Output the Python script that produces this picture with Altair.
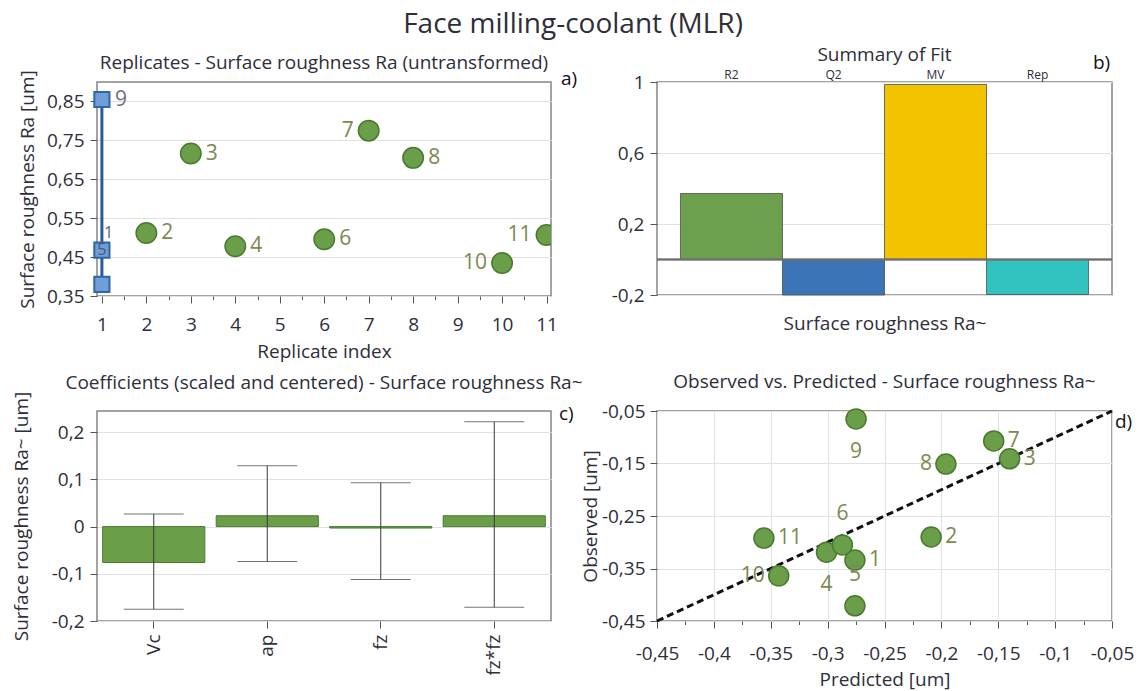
import altair as alt
import pandas as pd

# ---------------- data ----------------
# Panel a: replicate plot (untransformed Ra)
rep_idx = [2, 3, 4, 6, 7, 8, 10, 11]
rep_run = ["2", "3", "4", "6", "7", "8", "10", "11"]
rep_ra = [0.512, 0.716, 0.478, 0.496, 0.775, 0.705, 0.435, 0.507]
rep_side = ["r", "r", "r", "r", "l", "r", "l", "l"]

center_idx = [1, 1, 1]
center_run = ["9", "1", "5"]
center_ra = [0.855, 0.468, 0.38]

a_xticks = [1, 2, 3, 4, 5, 6, 7, 8, 9, 10, 11]
a_xminor = [1.5, 2.5, 3.5, 4.5, 5.5, 6.5, 7.5, 8.5, 9.5, 10.5]
a_yticks = [0.35, 0.45, 0.55, 0.65, 0.75, 0.85]

# Panel b: summary of fit
fit_names = ["R2", "Q2", "MV", "Rep"]
fit_vals = [0.372, -0.2, 0.986, -0.197]
fit_colors = ["#6c9f4e", "#3b75b5", "#f4c300", "#31c3c0"]
b_yticks = [-0.2, 0, 0.2, 0.4, 0.6, 0.8, 1]
b_yminor = [-0.1, 0.1, 0.3, 0.5, 0.7, 0.9]

# Panel c: coefficients
coef_terms = ["Vc", "ap", "fz", "fz*fz"]
coef_vals = [-0.076, 0.023, -0.003, 0.023]
coef_lo = [-0.175, -0.074, -0.112, -0.171]
coef_hi = [0.027, 0.129, 0.093, 0.222]
c_yticks = [-0.2, -0.1, 0, 0.1, 0.2]

# Panel d: observed vs predicted
run_ids = ["1", "2", "3", "4", "5", "6", "7", "8", "9", "10", "11"]
predicted = [-0.276, -0.209, -0.140, -0.301, -0.276, -0.287, -0.154, -0.196, -0.275, -0.343, -0.356]
observed = [-0.334, -0.290, -0.141, -0.319, -0.421, -0.305, -0.107, -0.151, -0.065, -0.364, -0.292]
label_pos = ["r", "r", "r", "b", "t", "t", "r", "l", "b", "l", "r"]
d_xticks = [-0.45, -0.4, -0.35, -0.3, -0.25, -0.2, -0.15, -0.1, -0.05]
d_xminor = [-0.425, -0.375, -0.325, -0.275, -0.225, -0.175, -0.125, -0.075]
d_yticks = [-0.45, -0.35, -0.25, -0.15, -0.05]
diag = [-0.45, -0.05]

# ---------------- style ----------------
FONT = "Open Sans"
TXT = "#2e2e3a"
LBL = "#7d8850"
GREEN = "#6b9e49"
GREEN_DK = "#4a7a30"
LF = 19      # axis label / title size
PF = 21      # point label size


def comma(dec):
    return ("replace(replace(format(datum.value, '." + str(dec) + "~f'), '.', ','), '\u2212', '-')")


def is_minor(minor):
    return "indexof([" + ",".join(str(v) for v in minor) + "], datum.value) >= 0"


def minor_axis(major, minor, **kw):
    test = is_minor(minor)
    return alt.Axis(
        values=major + minor, labelOverlap=False, labelFlush=False,
        tickSize={"condition": {"test": test, "value": 3.5}, "value": 7},
        gridOpacity={"condition": {"test": test, "value": 0}, "value": 1},
        **kw)


W, H1, H2 = 454, 214, 210

# ---------------- panel a ----------------
dfa = pd.DataFrame({"idx": rep_idx, "ra": rep_ra, "run": rep_run, "side": rep_side})
dfc = pd.DataFrame({"idx": center_idx, "ra": center_ra, "run": center_run})

xa = alt.X("idx:Q", scale=alt.Scale(domain=[0.89, 11.1], nice=False, zero=False),
           axis=minor_axis(a_xticks, a_xminor, grid=False, title="Replicate index", labelPadding=12,
                           titlePadding=8,
                           labelExpr=is_minor(a_xminor) + " ? '' : format(datum.value, 'd')"))
ya = alt.Y("ra:Q", scale=alt.Scale(domain=[0.35, 0.9], nice=False, zero=False),
           axis=alt.Axis(values=a_yticks, labelExpr=comma(2), title="Surface roughness Ra [um]",
                         titlePadding=9, labelPadding=6, labelFlush=False))

a_line = alt.Chart(dfc).mark_line(color="#2a5a9a", strokeWidth=3).encode(x=xa, y=ya, order="ra:Q")
a_sq = alt.Chart(dfc).mark_square(size=230, fill="#6f9fd6", stroke="#2d66ad", strokeWidth=2,
                                  opacity=1).encode(x=xa, y=ya)
a_pts = alt.Chart(dfa).mark_circle(size=420, color=GREEN, stroke=GREEN_DK, strokeWidth=1.5,
                                   opacity=1, clip=True).encode(x=xa, y=ya)
a_lr = alt.Chart(dfa).transform_filter("datum.side == 'r'").mark_text(
    align="left", dx=15, fontSize=PF, color=LBL).encode(x=xa, y=ya, text="run:N")
a_ll = alt.Chart(dfa).transform_filter("datum.side == 'l'").mark_text(
    align="right", dx=-15, fontSize=PF, color=LBL).encode(x=xa, y=ya, text="run:N")
a_c9 = alt.Chart(dfc).transform_filter("datum.run == '9'").mark_text(
    align="left", dx=13, fontSize=PF, color="#6b7084").encode(x=xa, y=ya, text="run:N")
a_c1 = alt.Chart(dfc).transform_filter("datum.run == '1'").mark_text(
    align="left", dx=2, dy=-17, fontSize=16, color="#5a6078").encode(x=xa, y=ya, text="run:N")
a_c5 = alt.Chart(dfc).transform_filter("datum.run == '5'").mark_text(
    align="center", dy=-34, fontSize=17, color="#4a5a80").encode(x=xa, y=ya, text="run:N")
a_tag = alt.Chart(pd.DataFrame({"t": ["a)"]})).mark_text(
    fontSize=LF, color="#111", align="left", baseline="middle").encode(
    x=alt.value(W + 10), y=alt.value(-3), text="t:N")

panel_a = alt.layer(a_line, a_sq, a_pts, a_lr, a_ll, a_c9, a_c1, a_c5, a_tag).properties(
    width=W, height=H1,
    title=alt.TitleParams("Replicates - Surface roughness Ra (untransformed)", offset=-3))

# ---------------- panel b ----------------
dfb = pd.DataFrame({"stat": fit_names, "value": fit_vals})
xb = alt.X("stat:N", sort=fit_names, scale=alt.Scale(paddingInner=0, paddingOuter=0.23),
           axis=alt.Axis(labels=False, ticks=False, title="Surface roughness Ra~", titlePadding=19))
yb = alt.Y("value:Q", scale=alt.Scale(domain=[-0.2, 1], nice=False),
           axis=minor_axis(b_yticks, b_yminor, title=None, labelPadding=6,
                           labelExpr=is_minor(b_yminor) + " ? '' : " + comma(1)))
b_bars = alt.Chart(dfb).mark_bar(stroke="#4d4d4d", strokeWidth=1, strokeOpacity=0.8).encode(
    x=xb, y=yb, color=alt.Color("stat:N", scale=alt.Scale(domain=fit_names, range=fit_colors), legend=None))
b_zero = alt.Chart(dfb).mark_rule(color="#6f6f6f", strokeWidth=1.5).encode(y=alt.datum(0))
b_cat = alt.Chart(dfb).mark_text(fontSize=12, color=TXT, baseline="bottom").encode(
    x=xb, y=alt.value(0), text="stat:N")
b_tag = alt.Chart(pd.DataFrame({"t": ["b)"]})).mark_text(
    fontSize=LF, color="#111", align="left", baseline="middle").encode(
    x=alt.value(W - 18), y=alt.value(-19), text="t:N")
panel_b = alt.layer(b_bars, b_zero, b_cat, b_tag).properties(
    width=W + 1, height=H1 - 1, title=alt.TitleParams("Summary of Fit", offset=-11))

# ---------------- panel c ----------------
dfcoef = pd.DataFrame({"term": coef_terms, "coef": coef_vals, "lo": coef_lo, "hi": coef_hi})
xc = alt.X("term:N", sort=coef_terms, scale=alt.Scale(paddingInner=0.1, paddingOuter=0.05),
           axis=alt.Axis(labelAngle=-90, title=None, labelPadding=6, tickSize=7))
yc_scale = alt.Scale(domain=[-0.2, 0.245], nice=False)
yc = alt.Y("coef:Q", scale=yc_scale,
           axis=alt.Axis(values=c_yticks, labelExpr=comma(1), title="Surface roughness Ra~ [um]",
                         titlePadding=20, labelPadding=6, labelFlush=False))
c_bars = alt.Chart(dfcoef).mark_bar(color=GREEN, stroke=GREEN_DK, strokeWidth=1).encode(x=xc, y=yc)
c_err = alt.Chart(dfcoef).mark_rule(color="#3a3a3a", strokeWidth=1).encode(
    x=xc, y=alt.Y("lo:Q", scale=yc_scale), y2="hi:Q")
c_cap_lo = alt.Chart(dfcoef).mark_tick(size=60, thickness=1, color="#3a3a3a").encode(
    x=xc, y=alt.Y("lo:Q", scale=yc_scale))
c_cap_hi = alt.Chart(dfcoef).mark_tick(size=60, thickness=1, color="#3a3a3a").encode(
    x=xc, y=alt.Y("hi:Q", scale=yc_scale))
c_tag = alt.Chart(pd.DataFrame({"t": ["c)"]})).mark_text(
    fontSize=LF, color="#111", align="left", baseline="middle").encode(
    x=alt.value(W + 8), y=alt.value(3), text="t:N")
panel_c = alt.layer(c_bars, c_err, c_cap_lo, c_cap_hi, c_tag).properties(
    width=W, height=H2,
    title=alt.TitleParams("Coefficients (scaled and centered) - Surface roughness Ra~", offset=-2))

# ---------------- panel d ----------------
dfd = pd.DataFrame({"run": run_ids, "pred": predicted, "obs": observed, "pos": label_pos})
dfdiag = pd.DataFrame({"pred": diag, "obs": diag})
xd = alt.X("pred:Q", scale=alt.Scale(domain=[-0.45, -0.05], nice=False, zero=False),
           axis=minor_axis(d_xticks, d_xminor, title="Predicted [um]", labelPadding=16, titlePadding=7,
                           labelExpr=is_minor(d_xminor) + " ? '' : " + comma(2)))
yd = alt.Y("obs:Q", scale=alt.Scale(domain=[-0.45, -0.05], nice=False, zero=False),
           axis=alt.Axis(values=d_yticks, labelExpr=comma(2), title="Observed [um]", titlePadding=1,
                         labelPadding=5, labelFlush=False))
d_line = alt.Chart(dfdiag).mark_line(color="#111", strokeWidth=3, strokeDash=[7, 4]).encode(x=xd, y=yd)
d_pts = alt.Chart(dfd).mark_circle(size=400, color=GREEN, stroke=GREEN_DK, strokeWidth=1.5,
                                   opacity=1).encode(x=xd, y=yd)
d_lab = []
for pos, kw in {"r": dict(align="left", dx=14), "l": dict(align="right", dx=-14),
                "t": dict(align="center", dy=-31), "b": dict(align="center", dy=33)}.items():
    d_lab.append(alt.Chart(dfd).transform_filter(f"datum.pos == '{pos}'").mark_text(
        fontSize=PF, color=LBL, **kw).encode(x=xd, y=yd, text="run:N"))
d_tag = alt.Chart(pd.DataFrame({"t": ["d)"]})).mark_text(
    fontSize=LF, color="#111", align="left", baseline="middle").encode(
    x=alt.value(W + 4), y=alt.value(11), text="t:N")
panel_d = alt.layer(d_line, d_pts, *d_lab, d_tag).properties(
    width=W + 1, height=H2,
    title=alt.TitleParams("Observed vs. Predicted - Surface roughness Ra~", offset=10))

chart = alt.concat(panel_a, panel_b, panel_c, panel_d, columns=2,
                   spacing={"row": 115, "column": 106}, bounds="flush").properties(
    title=alt.TitleParams("Face milling-coolant (MLR)", fontSize=28, anchor="middle", offset=6),
    padding={"left": 11, "top": 11, "right": 2, "bottom": 0},
).configure_view(
    stroke="#858585", strokeWidth=1.5
).configure_axis(
    labelFont=FONT, titleFont=FONT, labelFontSize=LF, titleFontSize=LF,
    labelColor=TXT, titleColor=TXT, titleFontWeight="normal",
    gridColor="#e2e2e2", tickColor="#555", domain=False, tickSize=7,
).configure_title(
    font=FONT, fontSize=LF, fontWeight="normal", color=TXT
).configure_text(font=FONT)

chart.save("out.html", embed_options={"renderer": "svg", "actions": False})
